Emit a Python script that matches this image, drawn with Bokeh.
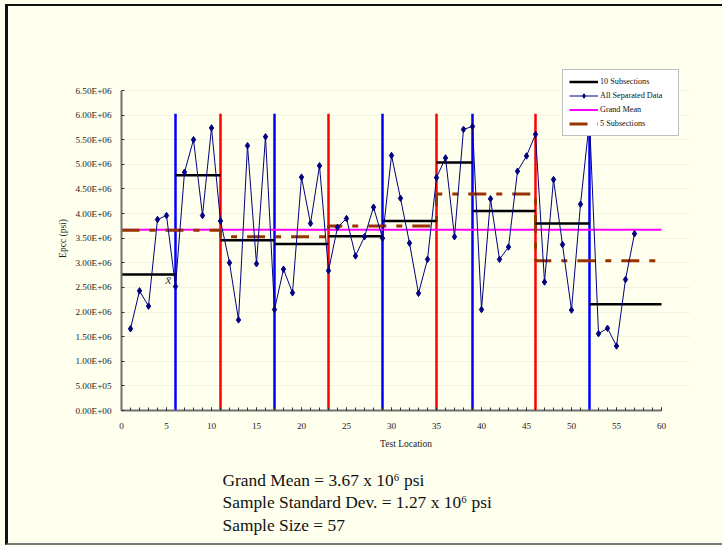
from bokeh.plotting import figure
from bokeh.layouts import column
from bokeh.models import (Range1d, FixedTicker, SingleIntervalTicker, Legend, LegendItem,
                          Label, ColumnDataSource)
from bokeh.embed import file_html
from bokeh.resources import INLINE

# ---------------- data ----------------
test_location = list(range(1, 58))
epcc = [1.66e6, 2.43e6, 2.12e6, 3.88e6, 3.96e6, 2.52e6, 4.84e6, 5.50e6, 3.96e6, 5.74e6,
        3.85e6, 3.00e6, 1.84e6, 5.38e6, 2.98e6, 5.56e6, 2.05e6, 2.87e6, 2.39e6, 4.74e6,
        3.80e6, 4.97e6, 2.84e6, 3.72e6, 3.90e6, 3.14e6, 3.53e6, 4.13e6, 3.50e6, 5.18e6,
        4.31e6, 3.40e6, 2.38e6, 3.07e6, 4.73e6, 5.13e6, 3.53e6, 5.71e6, 5.77e6, 2.05e6,
        4.30e6, 3.07e6, 3.32e6, 4.86e6, 5.17e6, 5.61e6, 2.61e6, 4.69e6, 3.37e6, 2.04e6,
        4.19e6, 5.90e6, 1.56e6, 1.67e6, 1.31e6, 2.66e6, 3.59e6]

grand_mean = 3.67e6

ten_bounds = [0, 6, 11, 17, 23, 29, 35, 39, 46, 52, 60]
ten_means = [2.76e6, 4.78e6, 3.46e6, 3.38e6, 3.54e6, 3.85e6, 5.04e6, 4.05e6, 3.80e6, 2.16e6]

five_bounds = [0, 11, 23, 35, 46, 60]
five_means = [3.66e6, 3.53e6, 3.75e6, 4.40e6, 3.04e6]

blue_bounds = [6, 17, 29, 39, 52]
red_bounds = [11, 23, 35, 46]
bound_top = 6.03e6

x_axis_max = 60
y_axis_max = 6.5e6
y_ticks = [0, 500000, 1000000, 1500000, 2000000, 2500000, 3000000, 3500000,
           4000000, 4500000, 5000000, 5500000, 6000000, 6500000]
y_tick_labels = ["0.00E+00", "5.00E+05", "1.00E+06", "1.50E+06", "2.00E+06", "2.50E+06",
                 "3.00E+06", "3.50E+06", "4.00E+06", "4.50E+06", "5.00E+06", "5.50E+06",
                 "6.00E+06", "6.50E+06"]

legend_labels = ["10 Subsections", "All Separated Data", "Grand Mean", "5 Subsections"]
stats_lines = ["Grand Mean = 3.67 x 10\u2076 psi",
               "Sample Standard Dev. = 1.27 x 10\u2076 psi",
               "Sample Size = 57"]

# ---------------- layout geometry (pixels) ----------------
BG = "#FFFFEE"
FONT = "Liberation Serif"
W = 722
H1 = 455
H2 = 546 - H1
AX_LEFT, AX_RIGHT, AX_TOP, AX_BOTTOM = 121, 661, 90, 410      # axis extent on page
FR_RIGHT, FR_TOP = 690, 66                                      # frame extended for legend
px_per_x = (AX_RIGHT - AX_LEFT) / x_axis_max
px_per_y = (AX_BOTTOM - AX_TOP) / y_axis_max
x_end = (FR_RIGHT - AX_LEFT) / px_per_x
y_end = (AX_BOTTOM - FR_TOP) / px_per_y

p = figure(width=W, height=H1, output_backend="svg", toolbar_location=None,
           x_range=Range1d(0, x_end), y_range=Range1d(0, y_end),
           background_fill_color=BG, border_fill_color=BG,
           min_border_left=AX_LEFT, min_border_right=W - FR_RIGHT,
           min_border_top=FR_TOP, min_border_bottom=H1 - AX_BOTTOM,
           outline_line_color=None)

# grid
p.xgrid.grid_line_color = None
p.ygrid.grid_line_color = "#F3F3E2"
p.ygrid.ticker = FixedTicker(ticks=y_ticks)

# axes
p.xaxis.ticker = SingleIntervalTicker(interval=5, num_minor_ticks=5)
p.xaxis.bounds = (0, x_axis_max)
p.yaxis.bounds = (0, y_axis_max)
p.xaxis.axis_label = "Test Location"
p.yaxis.axis_label = "Epcc (psi)"
p.yaxis.ticker = FixedTicker(ticks=y_ticks)
p.yaxis.major_label_overrides = {t: lab for t, lab in zip(y_ticks, y_tick_labels)}
for ax in (p.xaxis[0], p.yaxis[0]):
    ax.axis_line_color = "#707070"
    ax.axis_line_width = 2
    ax.major_tick_line_color = "#333333"
    ax.minor_tick_line_color = "#333333"
    ax.major_tick_in = 3
    ax.major_tick_out = 0
    ax.minor_tick_in = 3
    ax.minor_tick_out = 0
    ax.major_label_text_font = FONT
    ax.major_label_text_font_size = "9.2px"
    ax.major_label_text_color = "#222222"
    ax.axis_label_text_font = FONT
    ax.axis_label_text_font_size = "9.5px"
    ax.axis_label_text_font_style = "normal"
    ax.axis_label_text_color = "#222222"
p.yaxis.minor_tick_line_color = None
p.xaxis.major_label_standoff = 12
p.xaxis.axis_label_standoff = 7
p.yaxis.major_label_standoff = 10
p.yaxis.axis_label_standoff = 4

# vertical boundaries
p.segment(x0=blue_bounds, y0=[0] * len(blue_bounds), x1=blue_bounds, y1=[bound_top] * len(blue_bounds),
          line_color="#0000FF", line_width=2.5)
p.segment(x0=red_bounds, y0=[0] * len(red_bounds), x1=red_bounds, y1=[bound_top] * len(red_bounds),
          line_color="#FF0000", line_width=2.5)

# grand mean
r_gm = p.line([0, x_axis_max], [grand_mean, grand_mean], line_color="#FF00FF", line_width=2)

# 5 subsections (step)
sx, sy = [], []
for i, m in enumerate(five_means):
    sx += [five_bounds[i], five_bounds[i + 1]]
    sy += [m, m]
r_five = p.line(sx, sy, line_color="#993300", line_width=3, line_dash="18 10 6 10")

# 10 subsections
r_ten = p.segment(x0=ten_bounds[:-1], y0=ten_means, x1=ten_bounds[1:], y1=ten_means,
                  line_color="#000000", line_width=2.5)

# data
src = ColumnDataSource(dict(x=test_location, y=epcc))
r_data_line = p.line("x", "y", source=src, line_color="#000080", line_width=1)
r_data_pts = p.scatter("x", "y", source=src, marker="diamond", size=6.5,
                       fill_color="#000080", line_color="#000080")

# x-bar label
p.add_layout(Label(x=5.22, y=2.66e6, text="x\u0304", text_font=FONT, text_font_style="italic",
                   text_font_size="13px", text_color="#404040", text_align="center",
                   text_baseline="middle"))

# legend
legend = Legend(items=[LegendItem(label=legend_labels[0], renderers=[r_ten]),
                       LegendItem(label=legend_labels[1], renderers=[r_data_line, r_data_pts]),
                       LegendItem(label=legend_labels[2], renderers=[r_gm]),
                       LegendItem(label=legend_labels[3], renderers=[r_five])],
                location=(441, 274), orientation="vertical",
                label_text_font=FONT, label_text_font_size="8.2px", label_text_color="#111111",
                glyph_width=29, glyph_height=11, label_height=11, label_width=72,
                label_standoff=2, spacing=3, padding=6, margin=0,
                border_line_color="#808080", border_line_width=1,
                background_fill_color="#FFFFFF", background_fill_alpha=1.0)
p.add_layout(legend, "center")

# ---------------- stats text panel (frame aligned with the plot above) ----------------
t = figure(width=W, height=H2, output_backend="svg", toolbar_location=None,
           x_range=Range1d(AX_LEFT, FR_RIGHT), y_range=Range1d(H2, 0),
           x_axis_type=None, y_axis_type=None,
           background_fill_color=BG, border_fill_color=BG, outline_line_color=None,
           min_border_left=AX_LEFT, min_border_right=W - FR_RIGHT,
           min_border_top=0, min_border_bottom=0)
t.grid.grid_line_color = None
stats_x = 222
stats_baselines = [479, 501.5, 524]
for txt, yy in zip(stats_lines, stats_baselines):
    t.add_layout(Label(x=stats_x, y=yy - H1, text=txt, text_font=FONT, text_font_size="17.4px",
                       text_color="#111111", text_align="left", text_baseline="alphabetic"))

layout = column(p, t, spacing=0)

html = file_html(layout, INLINE)
css = ("<style>html,body{background:#FFFFEE;}"
       "body::after{content:'';position:fixed;left:5px;top:4px;width:730px;height:541px;"
       "box-sizing:border-box;border-left:3px solid #111;border-top:2px solid #111;"
       "border-bottom:2px solid #777;pointer-events:none;z-index:10;}</style>")
html = html.replace("</head>", css + "</head>", 1)
open("out.html", "w").write(html)
